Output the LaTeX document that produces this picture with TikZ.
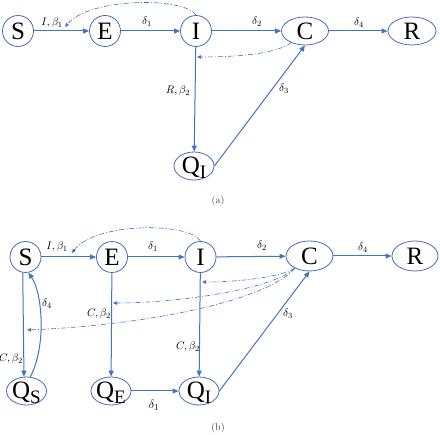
\documentclass[tikz,border=0pt]{standalone}
\usepackage{fontspec}
\newfontfamily\nodefont{Liberation Serif}
\usetikzlibrary{shapes.geometric,arrows.meta}
\definecolor{lineblue}{RGB}{68,114,196}
\definecolor{nodeblue}{RGB}{72,108,176}
\newcommand\qlab[1]{Q\raisebox{-5pt}{\fontsize{19}{19}\selectfont #1}}
\begin{document}
\begin{tikzpicture}[x=1pt,y=-1pt,
  state/.style={circle,draw=nodeblue,line width=0.8pt,minimum size=31pt,inner sep=0pt,font=\nodefont\fontsize{25}{25}\selectfont},
  oval/.style={ellipse,draw=nodeblue,line width=0.8pt,minimum width=47pt,minimum height=28pt,inner sep=0pt,font=\nodefont\fontsize{25}{25}\selectfont},
  qoval/.style={ellipse,draw=nodeblue,line width=0.8pt,minimum width=40pt,minimum height=28pt,inner sep=0pt,label={[font=\nodefont\fontsize{25}{25}\selectfont,yshift=-2pt]center:#1}},
  arr/.style={draw=lineblue,line width=1pt,-{Triangle[length=6pt,width=5pt]}},
  fb/.style={draw=lineblue,line width=0.6pt,dash pattern=on 5pt off 2pt on 1pt off 2pt,-{Triangle[length=4pt,width=3.5pt]}},
  lab/.style={font=\fontsize{11}{11}\selectfont,inner sep=0pt},
  captext/.style={font=\fontsize{10}{10}\selectfont,text=black!75,inner sep=0pt}
]
\useasboundingbox (0,0) rectangle (440,435);
% ---------- (a) ----------
\node[state] (S1) at (18,31) {S};
\node[state] (E1) at (105,31) {E};
\node[state] (I1) at (196,31) {I};
\node[oval] (C1) at (305,31) {C};
\node[oval,minimum width=48pt] (R1) at (412,31) {R};
\node[qoval={\qlab{I}}] (Q1) at (194,166) {};

\draw[arr] (S1) -- (E1);
\draw[arr] (E1) -- (I1);
\draw[arr] (I1) -- (C1);
\draw[arr] (C1) -- (R1);
\draw[arr] (I1) -- (Q1);
\draw[arr] (Q1.east) -- (C1.south);

\coordinate (t1) at (65,27);
\draw[fb] (I1.north) .. controls (185,-3) and (90,-3) .. (t1);
\coordinate (t2) at (197,57);
\draw[fb] (C1.-140) .. controls (275,55) and (230,57) .. (t2);

\node[lab] (l1) at (52,23) {$I,\beta_1$};
\node[lab] (l2) at (147,22) {$\delta_1$};
\node[lab] (l3) at (257,22) {$\delta_2$};
\node[lab] (l4) at (359,23) {$\delta_4$};
\node[lab] (l5) at (178,91) {$R,\beta_2$};
\node[lab] (l6) at (284,89) {$\delta_3$};
\node[captext] (ca) at (218,201) {(a)};

% ---------- (b) ----------
\node[state] (S2) at (25.5,257) {S};
\node[state] (E2) at (112,257) {E};
\node[state] (I2) at (200.5,257) {I};
\node[oval,minimum height=30pt] (C2) at (309.5,256) {C};
\node[oval,minimum width=46pt,minimum height=30pt] (R2) at (415,256) {R};
\node[qoval={\qlab{S}}] (QS) at (26.5,391) {};
\node[qoval={\qlab{E}}] (QE) at (111,391) {};
\node[qoval={\qlab{I}}] (QI) at (199,391) {};

\draw[arr] (S2) -- (E2);
\draw[arr] (E2) -- (I2);
\draw[arr] (I2) -- (C2);
\draw[arr] (C2) -- (R2);
\draw[arr] (S2.-100) -- (QS.100);
\draw[arr] (QS.75) .. controls (47,345) and (42,292) .. (S2.-80);
\draw[arr] (E2) -- (QE);
\draw[arr] (I2) -- (QI);
\draw[arr] (QE) -- (QI);
\draw[arr] (QI.east) -- (C2.south);

\coordinate (t3) at (72,253);
\draw[fb] (I2.north) .. controls (190,222) and (95,222) .. (t3);
\coordinate (t4) at (202,282);
\draw[fb] (C2.-140) .. controls (278,278) and (235,282) .. (t4);
\coordinate (t5) at (113,303);
\draw[fb] (C2.-140) .. controls (272,290) and (175,303) .. (t5);
\coordinate (t6) at (27,330);
\draw[fb] (C2.-140) .. controls (268,300) and (150,325) .. (t6);

\node[lab] (m1) at (57,247) {$I,\beta_1$};
\node[lab] (m2) at (153,247) {$\delta_1$};
\node[lab] (m3) at (262,246) {$\delta_2$};
\node[lab] (m4) at (363,248) {$\delta_4$};
\node[lab] (m5) at (47,304) {$\delta_4$};
\node[lab] (m6) at (11,359) {$C,\beta_2$};
\node[lab] (m7) at (99,314) {$C,\beta_2$};
\node[lab] (m8) at (188,347) {$C,\beta_2$};
\node[lab,font=\fontsize{13}{13}\selectfont] (m9) at (154,405) {$\delta_1$};
\node[lab] (m10) at (288,314) {$\delta_3$};
\node[captext] (cb) at (218,428) {(b)};
\end{tikzpicture}
\end{document}
